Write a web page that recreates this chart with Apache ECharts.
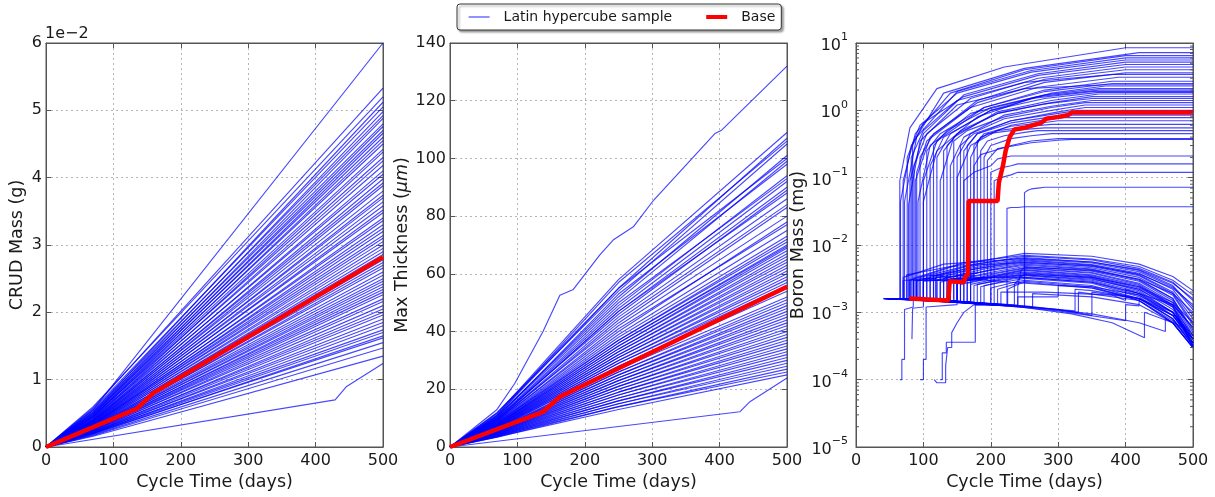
<!DOCTYPE html>
<html><head><meta charset="utf-8">
<script src="https://cdn.jsdelivr.net/npm/echarts@6/dist/echarts.min.js"></script>
<style>html,body{margin:0;padding:0;background:#fff}#c{width:1215px;height:497px}</style>
</head><body><div id="c"></div>
<script>
// ---------------- DATA ----------------
const xTicks = [0, 100, 200, 300, 400, 500];
const EARLY_DAY = 70, MID_DAY = 250, END_DAY = 500;

// Panel 1: CRUD mass, in units of 1e-2 g
const crudEnd = [6.0,5.33,5.2,5.12,5.05,4.98,4.92,4.88,4.8,4.76,4.7,4.66,4.6,4.55,4.5,4.42,4.38,4.3,4.25,4.18,4.1,4.05,3.98,3.92,3.88,3.8,3.74,3.7,3.64,3.58,3.52,3.48,3.4,3.36,3.3,3.25,3.2,3.14,3.1,3.05,3.0,2.95,2.9,2.86,2.78,2.74,2.7,2.66,2.6,2.55,2.5,2.46,2.42,2.38,2.34,2.3,2.26,2.2,2.16,2.1,2.05,2.0,1.96,1.9,1.85,1.8,1.74,1.7,1.65,1.62,1.55,1.47,1.35];
const crudEarly = [0.55,0.58,0.6,0.52,0.56,0.5,0.54,0.48,0.52,0.47,0.5,0.45,0.49,0.44,0.47,0.45,0.42,0.46,0.41,0.44,0.4,0.43,0.39,0.41,0.38,0.4,0.37,0.39,0.36,0.38,0.35,0.37,0.34,0.36,0.33,0.35,0.33,0.34,0.32,0.33,0.31,0.32,0.3,0.31,0.29,0.3,0.28,0.29,0.28,0.27,0.28,0.26,0.27,0.25,0.26,0.25,0.24,0.25,0.23,0.24,0.22,0.23,0.22,0.21,0.22,0.2,0.21,0.2,0.19,0.2,0.18,0.17,0.16];
const crudLowest = [[0,0],[429,0.70],[446,0.9],[500,1.24]];
const crudBase = [[0,0],[135,0.57],[159,0.8],[500,2.82]];

// Panel 2: max thickness (um)
const thickEnd = [109,107,106,105,101,100,99,98,94,93,92,90,89,88,86,84,83,80,78,77,75,73,72,71,70,69.5,69,68,67,66,65,64,63,62,61,60,59,58,57,56,55,54,52,51,50,49,48,47,46,45,44,43,42,41,40,39,38,37,36,35,34,33,32,31,30,29,28,27,26,25];
const thickMid = [58,55,57,54,52,55,51,53,49,50,48,47,46,47,45,44,43,42,40,41,39,38,37,37,36,36,35,35,34,34,33,33,32,32,31,31,30,30,29,29,28,28,27,26,26,25,25,24,24,23,23,22,22,21,21,20,20,19,19,18,18,17,17,16,16,15,15,14,14,13];
const thickEarly = [11.5,12,11,11.8,10.5,11,10.8,10.2,10,10.5,9.8,9.5,10,9.4,9.2,9,9.5,8.8,8.6,9,8.4,8.2,8,8.5,7.8,8,7.6,7.8,7.4,7.6,7.2,7.4,7,7.2,6.8,7,6.6,6.8,6.4,6.6,6.2,6.4,6,6.2,5.8,6,5.6,5.8,5.4,5.6,5.2,5.4,5,5.2,4.8,5,4.6,4.8,4.4,4.6,4.2,4.4,4,4.2,3.8,4,3.6,3.8,3.4,3.5];
const thickTop = [[0,0],[69,12.8],[96,22],[138,40],[163,52.6],[183,54.6],[222,66.5],[242,71.7],[272,76.3],[302,85.5],[393,108.6],[403,109.8],[500,132]];
const thickLowest = [[0,0],[430,12.2],[445,15.7],[500,23.9]];
const thickBase = [[0,0],[138,12.2],[163,17.4],[500,55.5]];

// Panel 3: boron mass (mg)
const BORON_START = 1.6e-3;
// high group: [start, stepDay, levelBeforeStep, stepLevel, jumpDay, jumpValue, x2, v2, x3, v3, x4, v4, x5, final]
const boronHigh = [
 [42,65,1.6e-3,1.6e-3,65,0.09,80,0.55,120,2.1,220,4.4,400,8.5],
 [44,66,1.6e-3,1.6e-3,66,0.044,82,0.3,130,1.8,250,4.2,420,7.2],
 [48,70,1.6e-3,1.6e-3,70,0.09,88,0.45,140,1.8,250,4.0,400,6.5],
 [50,72,1.6e-3,1.6e-3,72,0.044,90,0.4,150,1.9,260,3.9,400,6.0],
 [52,76,1.6e-3,1.6e-3,76,0.2,95,0.6,150,1.8,260,3.7,400,5.6],
 [55,80,1.58e-3,1.58e-3,80,0.09,100,0.45,160,1.7,270,3.5,400,5.2],
 [46,70,1.6e-3,3e-3,84,0.3,100,0.65,160,1.6,270,3.3,400,4.8],
 [58,86,1.57e-3,1.57e-3,86,0.15,105,0.45,170,1.5,270,3.0,400,4.4],
 [60,88,1.57e-3,1.57e-3,88,0.09,110,0.4,180,1.4,280,2.9,400,4.0],
 [62,80,1.58e-3,3.1e-3,95,0.2,115,0.45,180,1.3,280,2.6,400,3.6],
 [50,90,1.56e-3,1.56e-3,90,0.12,105,0.35,170,1.1,270,2.2,390,3.1],
 [64,85,1.57e-3,3e-3,100,0.09,120,0.35,190,1.1,280,2.0,380,2.7],
 [66,90,1.56e-3,3e-3,105,0.25,125,0.45,190,1.1,280,1.9,380,2.5],
 [70,95,1.55e-3,3.2e-3,110,0.15,130,0.4,200,1.0,290,1.8,370,2.3],
 [72,100,1.55e-3,3e-3,115,0.3,135,0.5,200,1.1,280,1.7,360,2.1],
 [55,92,1.56e-3,1.56e-3,92,0.044,110,0.3,170,0.9,270,1.6,360,2.0],
 [60,100,1.55e-3,3.2e-3,120,0.2,140,0.45,200,1.0,280,1.5,360,1.85],
 [75,105,1.54e-3,3e-3,125,0.09,145,0.4,210,0.95,290,1.4,360,1.75],
 [78,110,1.54e-3,3.5e-3,130,0.25,150,0.45,210,0.9,290,1.3,350,1.6],
 [80,115,1.53e-3,3e-3,135,0.3,155,0.5,210,0.9,280,1.25,350,1.5],
 [62,118,1.52e-3,3.3e-3,140,0.15,160,0.4,220,0.85,290,1.15,350,1.4],
 [70,120,1.52e-3,3e-3,145,0.35,165,0.5,220,0.8,290,1.1,340,1.3],
 [65,125,1.5e-3,3.4e-3,150,0.2,170,0.45,220,0.75,290,1.0,340,1.2],
 [58,130,1.5e-3,3e-3,155,0.3,175,0.45,230,0.7,300,0.95,340,1.1],
 [68,135,1.49e-3,3.6e-3,160,0.25,180,0.45,230,0.7,300,0.9,330,1.0],
 [74,140,1.48e-3,3.2e-3,165,0.3,180,0.45,230,0.65,290,0.8,320,0.85],
 [76,145,1.47e-3,3e-3,170,0.2,185,0.4,230,0.6,280,0.72,310,0.78],
 [80,150,1.46e-3,3.5e-3,175,0.3,190,0.45,230,0.58,280,0.66,300,0.7],
 [60,150,1.45e-3,1.45e-3,150,0.1,170,0.3,210,0.5,260,0.58,290,0.62],
 [66,155,1.45e-3,3.8e-3,180,0.35,195,0.45,230,0.5,260,0.53,280,0.55],
 [72,160,1.44e-3,3e-3,185,0.25,195,0.35,220,0.42,250,0.47,270,0.5],
 [78,165,1.43e-3,3.3e-3,190,0.2,200,0.3,230,0.38,260,0.42,290,0.45],
 [56,150,1.45e-3,3e-3,175,0.15,185,0.22,230,0.3,260,0.35,300,0.38],
 [64,170,1.42e-3,3.1e-3,195,0.18,210,0.27,260,0.33,300,0.36,320,0.37],
 [70,140,1.48e-3,3e-3,160,0.09,175,0.12,200,0.15,210,0.19,230,0.21],
 [74,200,1.32e-3,1.32e-3,200,0.12,215,0.14,230,0.15,240,0.16,250,0.16],
 [68,205,1.3e-3,1.3e-3,205,0.09,215,0.1,230,0.11,240,0.12,250,0.12],
 [62,250,1.2e-3,1.2e-3,250,0.06,255,0.065,260,0.068,270,0.07,280,0.072],
 [60,224,1.25e-3,1.25e-3,224,0.035,230,0.036,240,0.036,250,0.037,260,0.037],
 [50,100,1.55e-3,1.55e-3,100,0.044,120,0.25,180,0.8,260,1.5,350,1.9],
 [54,82,1.58e-3,1.58e-3,82,0.2,100,0.5,150,1.4,250,2.6,380,3.4],
 [58,78,1.58e-3,1.58e-3,78,0.04,95,0.35,150,1.2,250,2.1,370,2.4]
];
// low group: [start, stepDay, levelBeforeStep, stepLevel, riseDay, riseLevel, then values at lowDays]
const lowDays = [250, 350, 420, 470, 500];
const boronLow = [
 [45,80,1.58e-3,3e-3,150,5e-3, 7.5e-3,6.8e-3,5.2e-3,3.4e-3,2.1e-3],
 [50,85,1.57e-3,3.2e-3,160,5.5e-3, 7.0e-3,6.2e-3,4.8e-3,3.0e-3,1.8e-3],
 [55,90,1.56e-3,2.9e-3,170,5e-3, 6.8e-3,6.0e-3,4.5e-3,2.8e-3,1.5e-3],
 [60,95,1.55e-3,3.3e-3,175,5.2e-3, 6.5e-3,5.6e-3,4.2e-3,2.5e-3,1.2e-3],
 [62,100,1.55e-3,3e-3,180,5e-3, 6.2e-3,5.4e-3,4.0e-3,2.4e-3,1.1e-3],
 [48,105,1.55e-3,3.4e-3,185,4.8e-3, 6.0e-3,5.1e-3,3.8e-3,2.2e-3,9e-4],
 [52,110,1.54e-3,3.1e-3,180,4.5e-3, 5.8e-3,5.0e-3,3.6e-3,2.0e-3,8e-4],
 [58,115,1.53e-3,3.5e-3,190,4.6e-3, 5.6e-3,4.8e-3,3.5e-3,1.9e-3,7e-4],
 [64,120,1.52e-3,3e-3,190,4.4e-3, 5.4e-3,4.6e-3,3.3e-3,1.8e-3,6.5e-4],
 [66,125,1.5e-3,2.8e-3,200,4.3e-3, 5.2e-3,4.4e-3,3.1e-3,1.6e-3,5.5e-4],
 [70,130,1.5e-3,3.2e-3,200,4.2e-3, 5.0e-3,4.3e-3,3.0e-3,1.6e-3,5e-4],
 [72,135,1.5e-3,2.9e-3,205,4e-3, 4.8e-3,4.1e-3,2.9e-3,1.5e-3,4.5e-4],
 [74,140,1.48e-3,3e-3,210,3.9e-3, 4.6e-3,3.9e-3,2.7e-3,1.4e-3,4e-4],
 [76,145,1.47e-3,2.7e-3,210,3.8e-3, 4.5e-3,3.8e-3,2.6e-3,1.3e-3,3.5e-4],
 [78,150,1.46e-3,2.8e-3,215,3.7e-3, 4.3e-3,3.6e-3,2.5e-3,1.25e-3,3.2e-4],
 [80,155,1.45e-3,2.6e-3,215,3.6e-3, 4.2e-3,3.5e-3,2.4e-3,1.2e-3,3e-4],
 [44,160,1.44e-3,2.9e-3,220,3.6e-3, 4.0e-3,3.4e-3,2.3e-3,1.3e-3,6e-4],
 [46,165,1.43e-3,2.7e-3,220,3.5e-3, 3.9e-3,3.3e-3,2.2e-3,1.1e-3,4e-4],
 [54,170,1.42e-3,2.6e-3,225,3.4e-3, 3.8e-3,3.2e-3,2.1e-3,1.0e-3,3.5e-4],
 [56,175,1.41e-3,2.5e-3,225,3.3e-3, 3.6e-3,3.0e-3,2.0e-3,1.0e-3,4.5e-4],
 [60,180,1.4e-3,2.6e-3,230,3.2e-3, 3.5e-3,2.9e-3,1.9e-3,9e-4,3.5e-4],
 [68,185,1.38e-3,2.4e-3,230,3.1e-3, 3.3e-3,2.8e-3,1.8e-3,9e-4,4e-4],
 [70,190,1.37e-3,2.5e-3,235,3.0e-3, 3.2e-3,2.7e-3,1.7e-3,8e-4,3.2e-4],
 [74,200,1.35e-3,2.3e-3,235,2.8e-3, 3.0e-3,2.5e-3,1.6e-3,8e-4,3.5e-4],
 [78,210,1.33e-3,2.2e-3,240,2.7e-3, 2.9e-3,2.4e-3,1.5e-3,7e-4,3e-4],
 [82,225,1.3e-3,2.2e-3,240,2.6e-3, 2.8e-3,2.3e-3,1.5e-3,7.5e-4,3.3e-4],
 [50,75,1.58e-3,3.6e-3,140,4.8e-3, 5.5e-3,4.9e-3,3.7e-3,2.3e-3,1.3e-3],
 [42,70,1.6e-3,3.3e-3,130,5.2e-3, 6.3e-3,5.6e-3,4.3e-3,2.7e-3,1.6e-3],
 [58,240,1.28e-3,2.4e-3,245,4.2e-3, 4.7e-3,4.2e-3,3.1e-3,1.9e-3,1.0e-3],
 [62,235,1.28e-3,2.6e-3,245,3.4e-3, 3.7e-3,3.3e-3,2.4e-3,1.4e-3,7e-4]
];
// individually read traces (start low or stay on the lower band)
const boronOther = [
 [[65,1e-4],[68,1e-4],[68,2e-4],[72,2e-4],[72,1.1e-3],[85,1.2e-3],[85,3e-3],[160,3.2e-3],[230,2.8e-3],[350,2.3e-3],[420,1.6e-3],[470,8e-4],[500,3.2e-4]],
 [[95,1e-4],[100,1e-4],[100,2e-4],[104,2e-4],[104,1.2e-3],[150,1.3e-3],[150,3e-3],[250,3.6e-3],[350,3.1e-3],[420,2.2e-3],[470,1.2e-3],[500,4.5e-4]],
 [[116,1e-4],[120,9e-5],[133,9e-5],[133,1.6e-4],[136,3e-4],[142,3e-4],[142,5e-4],[150,7e-4],[160,1e-3],[175,1.3e-3],[250,1.25e-3],[300,1.1e-3],[330,1e-3],[330,2e-3],[420,1.5e-3],[470,7e-4],[500,3e-4]],
 [[125,1e-4],[128,1e-4],[128,2.5e-4],[134,2.5e-4],[134,3.6e-4],[177,3.6e-4],[177,1.3e-3],[240,1.25e-3],[300,1.1e-3],[350,9e-4],[350,2e-3],[420,1.6e-3],[470,9e-4],[500,4e-4]],
 [[83,4e-4],[84,1.15e-3],[100,1.2e-3],[100,2.9e-3],[200,3.3e-3],[250,3.3e-3],[350,2.8e-3],[420,1.9e-3],[470,1e-3],[500,4e-4]],
 [[40,1.6e-3],[150,1.42e-3],[250,1.18e-3],[320,9.5e-4],[380,7e-4],[428,4.2e-4],[428,1e-3],[470,7e-4],[500,3e-4]],
 [[42,1.6e-3],[150,1.44e-3],[250,1.22e-3],[350,9.5e-4],[420,7e-4],[459,5.2e-4],[459,8e-4],[485,6e-4],[500,3.5e-4]],
 [[45,1.6e-3],[200,1.32e-3],[300,1.1e-3],[325,1.05e-3],[325,2.2e-3],[350,2.1e-3],[420,1.6e-3],[470,9e-4],[500,3.5e-4]],
 [[48,1.6e-3],[200,1.33e-3],[262,1.2e-3],[262,1.9e-3],[350,1.7e-3],[420,1.3e-3],[470,7e-4],[500,3e-4]],
 [[50,1.6e-3],[200,1.34e-3],[240,1.25e-3],[240,1.7e-3],[300,1.7e-3],[300,2.5e-3],[350,2.4e-3],[420,1.8e-3],[470,1e-3],[500,4e-4]],
 [[52,1.6e-3],[215,1.3e-3],[215,2.0e-3],[280,2.0e-3],[380,1.8e-3],[400,1.5e-3],[400,2.2e-3],[470,1.3e-3],[500,6e-4]],
 [[55,1.6e-3],[200,1.32e-3],[300,1.05e-3],[400,7.5e-4],[400,1.3e-3],[420,1.25e-3],[420,1.6e-3],[470,1e-3],[500,4e-4]]
];
const boronBase = [[79,1.6e-3],[137,1.5e-3],[139,2.9e-3],[160,2.8e-3],[163,3.5e-3],[166,3.6e-3],[167,0.045],[210,0.045],[212,0.085],[218,0.15],[222,0.25],[228,0.4],[235,0.52],[250,0.55],[262,0.6],[275,0.65],[282,0.75],[300,0.8],[315,0.85],[320,0.93],[500,0.93]];
// minor tick values for the log axis (2..9 in each decade)
const logMinorMultipliers = [2,3,4,5,6,7,8,9];
const logDecades = [1e-5,1e-4,1e-3,1e-2,1e-1,1];

// ---------------- CHART ----------------
const FONT = 'DejaVu Sans';
const TXT = '#1a1a1a';
const FRAME = '#555';
const BLUE = 'rgba(0,0,255,0.72)';
const SAMPLE = 'Latin hypercube sample', BASE = 'Base';

const series = [];
function addBlue(data, i) {
  series.push({type:'line', name:SAMPLE, xAxisIndex:i, yAxisIndex:i, data, symbol:'none', showSymbol:false,
    lineStyle:{color:BLUE, width:1.15}, itemStyle:{color:BLUE}, silent:true, z:2});
}
function addRed(data, i) {
  series.push({type:'line', name:BASE, xAxisIndex:i, yAxisIndex:i, data, symbol:'none', showSymbol:false,
    lineStyle:{color:'#ff0000', width:4.5}, itemStyle:{color:'#ff0000'}, silent:true, z:5});
}
crudEnd.forEach((e, k) => addBlue([[0,0],[EARLY_DAY,crudEarly[k]],[END_DAY,e]], 0));
addBlue(crudLowest, 0);
thickEnd.forEach((e, k) => addBlue([[0,0],[EARLY_DAY,thickEarly[k]],[MID_DAY,thickMid[k]],[END_DAY,e]], 1));
addBlue(thickTop, 1); addBlue(thickLowest, 1);
boronHigh.forEach(r => {
  const [s,d0,b0,pre,J,v1,x2,v2,x3,v3,x4,v4,x5,F] = r;
  addBlue([[s,BORON_START],[d0,b0],[d0,pre],[J,pre],[J,v1],[x2,v2],[x3,v3],[x4,v4],[x5,F],[END_DAY,F]], 2);
});
boronLow.forEach(r => {
  const [s,d0,b0,v1,d2,v2] = r;
  const pts = [[s,BORON_START],[d0,b0],[d0,v1],[d2,v2]];
  lowDays.forEach((d, j) => pts.push([d, r[6+j]]));
  addBlue(pts, 2);
});
boronOther.forEach(p => addBlue(p, 2));
addRed(crudBase, 0); addRed(thickBase, 1); addRed(boronBase, 2);

// minor ticks on both sides of the log axis, drawn through the axis scale
const minorVals = [];
logDecades.forEach(d => logMinorMultipliers.forEach(m => minorVals.push([0, d * m])));
series.push({
  type:'custom', xAxisIndex:2, yAxisIndex:2, silent:true, z:6, clip:false,
  data: minorVals,
  renderItem: (params, api) => {
    const v = api.value(1);
    const pl = api.coord([0, v]), pr = api.coord([500, v]);
    const st = {stroke:FRAME, lineWidth:1};
    return {type:'group', children:[
      {type:'line', shape:{x1:pl[0], y1:pl[1], x2:pl[0]+3, y2:pl[1]}, style:st},
      {type:'line', shape:{x1:pr[0], y1:pr[1], x2:pr[0]-3, y2:pr[1]}, style:st}
    ]};
  }
});

const grids = [
  {left:46, top:43, width:337, height:404},
  {left:450, top:43, width:337, height:404},
  {left:856, top:43, width:337, height:404}
].map(g => Object.assign(g, {show:true, borderColor:FRAME, borderWidth:1, containLabel:false}));

const lab = {fontFamily:FONT, fontSize:16, color:TXT};
const nameLab = {fontFamily:FONT, fontSize:17.5, color:TXT};
const tickIn = {show:true, inside:true, length:5, lineStyle:{color:FRAME}};
function xAx(i) {
  return {type:'value', gridIndex:i, min:0, max:500, interval:100,
    name:'Cycle Time (days)', nameLocation:'middle', nameGap:24, nameTextStyle:nameLab,
    axisLine:{show:true, onZero:false, lineStyle:{color:FRAME}},
    axisTick:tickIn,
    axisLabel:Object.assign({margin:6, showMinLabel:true, showMaxLabel:true}, lab),
    splitLine:{show:true, lineStyle:{color:'#b5b5b5', type:[2,3], width:1}}};
}
function xTop(i) {
  return {type:'value', gridIndex:i, position:'top', min:0, max:500, interval:100,
    axisLine:{show:true, onZero:false, lineStyle:{color:FRAME}}, axisTick:tickIn,
    axisLabel:{show:false}, splitLine:{show:false}};
}
const yBase = {
  axisLine:{show:true, onZero:false, lineStyle:{color:FRAME}},
  axisTick:tickIn,
  splitLine:{show:true, lineStyle:{color:'#b5b5b5', type:[2,3], width:1}},
  nameLocation:'middle'
};
const yRightBase = {position:'right', axisLine:{show:true, onZero:false, lineStyle:{color:FRAME}},
  axisTick:tickIn, axisLabel:{show:false}, splitLine:{show:false}};
const yAxes = [
  Object.assign({}, yBase, {type:'value', gridIndex:0, min:0, max:6, interval:1,
    name:'CRUD Mass (g)', nameGap:20, nameTextStyle:nameLab,
    axisLabel:Object.assign({margin:4}, lab)}),
  Object.assign({}, yBase, {type:'value', gridIndex:1, min:0, max:140, interval:20,
    name:'Max Thickness ({i|μm})', nameGap:38,
    nameTextStyle:Object.assign({rich:{i:Object.assign({fontStyle:'italic'}, nameLab)}}, nameLab),
    axisLabel:Object.assign({margin:4}, lab)}),
  Object.assign({}, yBase, {type:'log', logBase:10, gridIndex:2, min:1e-5, max:10, splitNumber:6,
    name:'Boron Mass (mg)', nameGap:47, nameTextStyle:nameLab,
    axisLabel:{margin:8, formatter: v => {
      const e = Math.round(Math.log10(v));
      return '{b|10}{s|' + (e < 0 ? '\u2212' + (-e) : e) + '}';
    }, rich:{
      b:{fontFamily:FONT, fontSize:16, color:TXT, lineHeight:22, verticalAlign:'bottom'},
      s:{fontFamily:FONT, fontSize:11, color:TXT, lineHeight:12, verticalAlign:'top'}
    }}}),
  Object.assign({}, yRightBase, {type:'value', gridIndex:0, min:0, max:6, interval:1}),
  Object.assign({}, yRightBase, {type:'value', gridIndex:1, min:0, max:140, interval:20}),
  Object.assign({}, yRightBase, {type:'log', logBase:10, gridIndex:2, min:1e-5, max:10, splitNumber:6})
];

const option = {
  animation:false,
  backgroundColor:'#fff',
  textStyle:{fontFamily:FONT},
  grid: grids,
  xAxis: [xAx(0), xAx(1), xAx(2), xTop(0), xTop(1), xTop(2)],
  yAxis: yAxes,
  legend: {
    left:457, top:4, orient:'horizontal',
    data:[
      {name:SAMPLE, itemStyle:{color:'rgba(0,0,0,0)', borderColor:'rgba(0,0,0,0)', borderWidth:0}, lineStyle:{color:'rgba(40,40,255,0.85)', width:1.2}},
      {name:BASE, itemStyle:{color:'rgba(0,0,0,0)', borderColor:'rgba(0,0,0,0)', borderWidth:0}, lineStyle:{color:'#ff0000', width:4}}
    ],
    itemWidth:21, itemHeight:12, itemGap:32,
    padding:[6,6,6,11],
    borderColor:'#333', borderWidth:1, borderRadius:3,
    backgroundColor:'#fff',
    shadowColor:'rgba(0,0,0,0.35)', shadowBlur:2, shadowOffsetX:2, shadowOffsetY:2,
    textStyle:{fontFamily:FONT, fontSize:14, color:TXT, padding:[0,0,0,9]},
    selectedMode:false
  },
  graphic:[{type:'text', left:45, top:26, style:{text:'1e\u22122', font:'16px "DejaVu Sans"', fill:TXT}}],
  series
};
const chart = echarts.init(document.getElementById('c'), null, {renderer:'canvas'});
chart.setOption(option);
</script></body></html>
